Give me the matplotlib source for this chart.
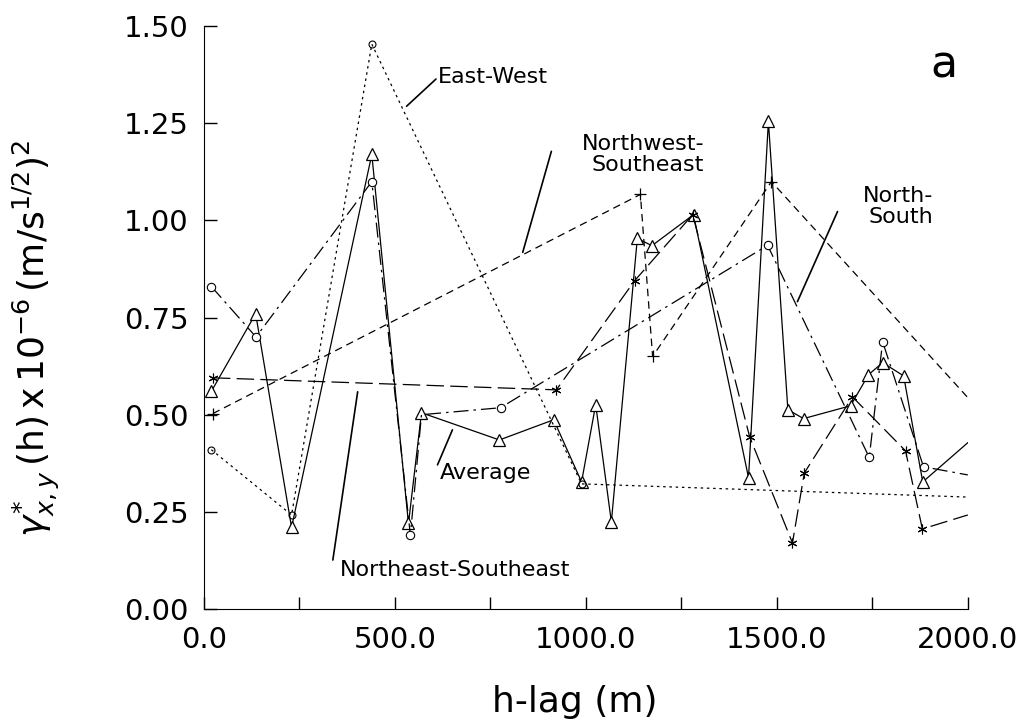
import matplotlib
matplotlib.use("Agg")
import matplotlib.pyplot as plt
from matplotlib.ticker import MultipleLocator, FormatStrFormatter

# data (lag in m, semivariogram x 1e-6)
avg_x = [20, 136, 230, 440, 536, 570, 774, 916, 989, 1026, 1067, 1135, 1173,
         1282, 1426, 1478, 1529, 1570, 1693, 1740, 1777, 1832, 1882, 2000]
avg_y = [0.56, 0.76, 0.21, 1.17, 0.22, 0.505, 0.435, 0.487, 0.327, 0.526, 0.224,
         0.954, 0.935, 1.015, 0.338, 1.255, 0.513, 0.49, 0.523, 0.603, 0.634,
         0.60, 0.327, 0.428]

ew_x = [20, 230, 440, 989, 2000]
ew_y = [0.41, 0.242, 1.454, 0.322, 0.288]

nwse_x = [24, 1143, 1175, 1486, 2000]
nwse_y = [0.503, 1.067, 0.65, 1.10, 0.544]

ns_x = [20, 137, 440, 541, 570, 777, 1476, 1742, 1777, 1884, 2000]
ns_y = [0.83, 0.70, 1.10, 0.19, 0.50, 0.518, 0.936, 0.39, 0.688, 0.366, 0.345]

nese_x = [24, 923, 1128, 1280, 1429, 1541, 1572, 1698, 1837, 1881, 2000]
nese_y = [0.595, 0.564, 0.845, 1.015, 0.443, 0.17, 0.35, 0.546, 0.407, 0.206, 0.242]

plt.rcParams["font.family"] = ["DejaVu Sans"]
fig = plt.figure(figsize=(10.34, 7.28), dpi=100)
ax = fig.add_axes([0.197, 0.1635, 0.739, 0.8005])

lw = 0.9
ax.plot(avg_x, avg_y, color="black", lw=lw, ls="-", marker="^", ms=9,
        mfc="white", mec="black", mew=0.9, markevery=slice(0, -1))
ax.plot(ew_x, ew_y, color="black", lw=lw, ls=(0, (2, 3)), marker="o", ms=5,
        mfc="none", mec="black", mew=0.8, markevery=slice(0, -1))
ax.plot(nwse_x, nwse_y, color="black", lw=lw, ls=(0, (6, 4)), marker="+", ms=8,
        mec="black", mew=0.9, markevery=slice(0, -1))
ax.plot(ns_x, ns_y, color="black", lw=lw, ls=(0, (12, 4, 2, 4)), marker="o", ms=6,
        mfc="white", mec="black", mew=0.8, markevery=[0, 1, 2, 3, 5, 6, 7, 8, 9])
ax.plot(nese_x, nese_y, color="black", lw=lw, ls=(0, (14, 5)), marker=(6, 2, 0), ms=7,
        mec="black", mew=0.8, markevery=slice(0, -1))

ax.set_xlim(0, 2000)
ax.set_ylim(0, 1.5)
ax.spines["top"].set_visible(False)
ax.spines["right"].set_visible(False)
ax.xaxis.set_major_locator(MultipleLocator(500))
ax.xaxis.set_minor_locator(MultipleLocator(250))
ax.yaxis.set_major_locator(MultipleLocator(0.25))
ax.xaxis.set_major_formatter(FormatStrFormatter("%.1f"))
ax.yaxis.set_major_formatter(FormatStrFormatter("%.2f"))
ax.tick_params(axis="both", which="both", direction="in", length=9, width=1,
               labelsize=21)
ax.tick_params(axis="x", pad=12)
ax.tick_params(axis="y", pad=11)

ax.set_xlabel("h-lag (m)", fontsize=26)
ax.xaxis.set_label_coords(0.486, -0.13)
ax.set_ylabel(r"$\gamma^{*}_{x,y}\,\mathrm{(h)\,x\,10^{-6}\,(m/s^{1/2})^{2}}$",
              fontsize=26)
ax.yaxis.set_label_coords(-0.185, 0.465)

ax.text(1938, 1.40, "a", fontsize=32, ha="center", va="center")

lead = dict(arrowstyle="-", shrinkA=0, shrinkB=0, lw=1.2, color="black")
fs = 16
ax.text(612, 1.369, "East-West", fontsize=fs, ha="left", va="center")
ax.annotate("", xy=(531, 1.294), xytext=(608, 1.364), arrowprops=lead)

ax.text(1310, 1.170, "Northwest-\nSoutheast", fontsize=fs, ha="right", va="center",
        multialignment="right", linespacing=1.1)
ax.annotate("", xy=(835, 0.918), xytext=(910, 1.178), arrowprops=lead)

ax.text(1910, 1.036, "North-\nSouth", fontsize=fs, ha="right", va="center",
        multialignment="right", linespacing=1.1)
ax.annotate("", xy=(1554, 0.791), xytext=(1659, 1.023), arrowprops=lead)

ax.text(617, 0.351, "Average", fontsize=fs, ha="left", va="center")
ax.annotate("", xy=(651, 0.461), xytext=(612, 0.371), arrowprops=lead)

ax.text(356, 0.10, "Northeast-Southeast", fontsize=fs, ha="left", va="center")
ax.annotate("", xy=(403, 0.559), xytext=(338, 0.126), arrowprops=lead)

fig.savefig("out.png", dpi=100, facecolor="white")
